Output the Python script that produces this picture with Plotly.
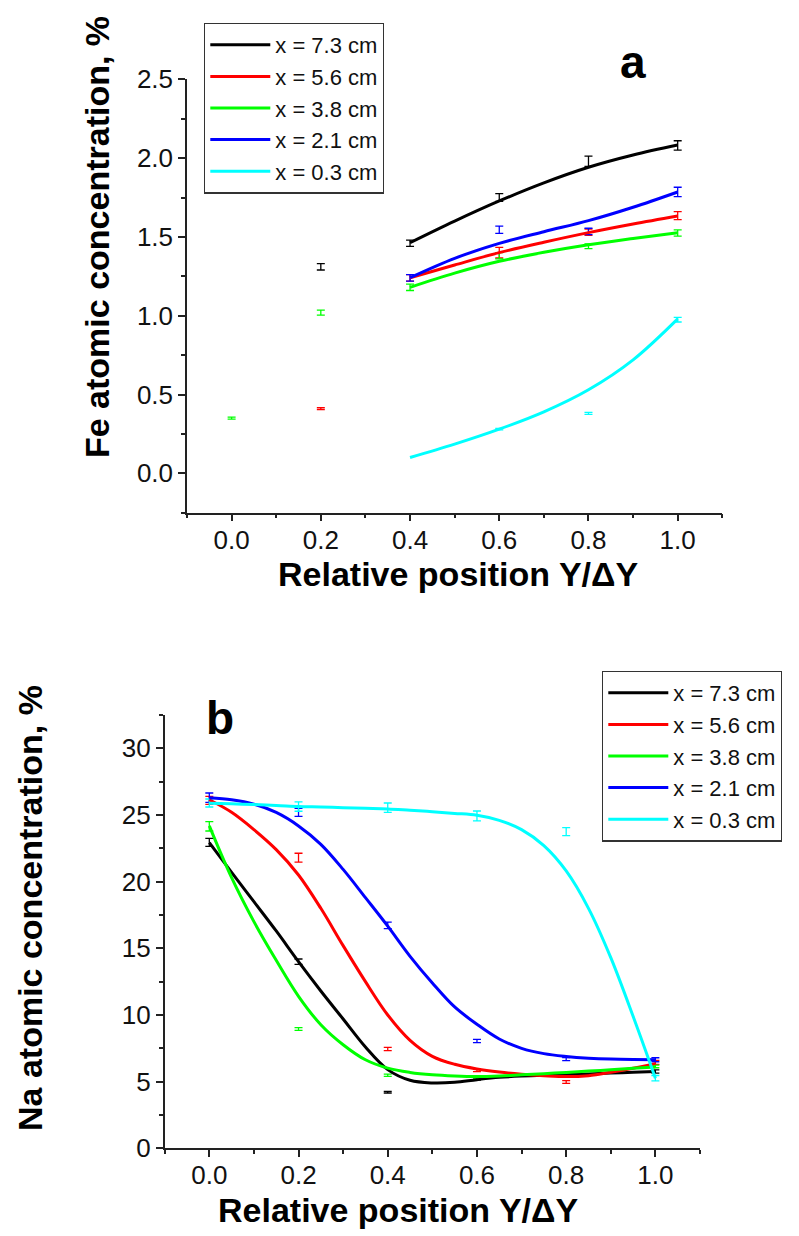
import plotly.graph_objects as go

W, H = 799, 1236
FONT = "Arial, Liberation Sans, sans-serif"

series_names = ["x = 7.3 cm", "x = 5.6 cm", "x = 3.8 cm", "x = 2.1 cm", "x = 0.3 cm"]
series_colors = ["#000000", "#FF0000", "#00FF00", "#0000FF", "#00FFFF"]

# ---------------- Panel a : Fe ----------------
fe_pts_x = [
    [0.2, 0.4, 0.6, 0.8, 1.0],
    [0.2, 0.4, 0.6, 0.8, 1.0],
    [0.0, 0.2, 0.4, 0.6, 0.8, 1.0],
    [0.4, 0.6, 0.8, 1.0],
    [0.6, 0.8, 1.0],
]
fe_pts_y = [
    [1.31, 1.46, 1.75, 1.98, 2.08],
    [0.41, 1.24, 1.40, 1.53, 1.635],
    [0.35, 1.02, 1.18, 1.38, 1.44, 1.525],
    [1.24, 1.545, 1.535, 1.785],
    [0.28, 0.38, 0.975],
]
fe_pts_err = [
    [0.02, 0.02, 0.025, 0.032, 0.03],
    [0.006, 0.02, 0.034, 0.02, 0.025],
    [0.006, 0.016, 0.02, 0.02, 0.015, 0.02],
    [0.02, 0.023, 0.02, 0.03],
    [0.005, 0.006, 0.015],
]
fe_fit_x = [0.4, 0.5, 0.6, 0.7, 0.8, 0.9, 1.0]
fe_fit_y = [
    [1.463, 1.600, 1.728, 1.843, 1.942, 2.020, 2.083],
    [1.241, 1.322, 1.400, 1.466, 1.527, 1.582, 1.633],
    [1.180, 1.270, 1.345, 1.402, 1.450, 1.490, 1.527],
    [1.241, 1.364, 1.459, 1.533, 1.603, 1.688, 1.785],
    [0.100, 0.185, 0.280, 0.390, 0.530, 0.720, 0.980],
]

# ---------------- Panel b : Na ----------------
na_pts_x = [0.0, 0.2, 0.4, 0.6, 0.8, 1.0]
na_pts_y = [
    [22.95, 14.0, 4.2, 5.2, 5.45, 5.76],
    [26.1, 21.8, 7.45, 5.85, 4.97, 6.44],
    [24.15, 8.95, 5.48, 5.35, 5.6, 6.14],
    [26.3, 25.2, 16.72, 8.05, 6.69, 6.64],
    [25.9, 25.63, 25.55, 24.93, 23.75, 5.26],
]
na_pts_err = [
    [0.3, 0.2, 0.06, 0.08, 0.08, 0.12],
    [0.3, 0.33, 0.12, 0.1, 0.1, 0.15],
    [0.35, 0.1, 0.08, 0.08, 0.08, 0.1],
    [0.35, 0.3, 0.25, 0.12, 0.12, 0.15],
    [0.3, 0.35, 0.35, 0.37, 0.3, 0.2],
]
na_fit_x = [0.0, 0.05, 0.1, 0.15, 0.2, 0.25, 0.3, 0.35, 0.4, 0.45, 0.5,
            0.55, 0.6, 0.65, 0.7, 0.75, 0.8, 0.85, 0.9, 0.95, 1.0]
na_fit_y = [
    [22.93, 20.7, 18.5, 16.3, 14.0, 11.8, 9.7, 7.6, 5.9, 5.1, 4.9,
     4.95, 5.15, 5.32, 5.42, 5.48, 5.52, 5.58, 5.64, 5.7, 5.76],
    [26.14, 25.2, 23.9, 22.4, 20.5, 18.0, 15.2, 12.5, 10.0, 8.1, 6.9,
     6.3, 5.95, 5.72, 5.56, 5.45, 5.38, 5.45, 5.7, 6.0, 6.35],
    [24.18, 20.3, 17.0, 14.1, 11.4, 9.27, 7.77, 6.64, 6.01, 5.69, 5.51,
     5.42, 5.38, 5.42, 5.51, 5.6, 5.69, 5.79, 5.89, 6.0, 6.1],
    [26.29, 26.14, 25.81, 25.19, 24.18, 22.8, 20.92, 18.8, 16.66, 14.4, 12.4,
     10.6, 9.3, 8.2, 7.5, 7.1, 6.89, 6.76, 6.69, 6.66, 6.65],
    [25.89, 25.84, 25.78, 25.72, 25.64, 25.6, 25.55, 25.5, 25.45, 25.35, 25.25,
     25.12, 24.98, 24.6, 23.9, 22.7, 20.8, 18.0, 14.3, 9.9, 5.26],
]

x_ticks = [0.0, 0.2, 0.4, 0.6, 0.8, 1.0]
fe_y_ticks = [0.0, 0.5, 1.0, 1.5, 2.0, 2.5]
na_y_ticks = [0, 5, 10, 15, 20, 25, 30]

fig = go.Figure()

def add_panel(xa, ya, legend, pts_x_list, pts_y, pts_err, fit_x, fit_y):
    for i in range(5):
        px = pts_x_list[i] if isinstance(pts_x_list[0], list) else pts_x_list
        fig.add_trace(go.Scatter(
            x=px, y=pts_y[i], mode="markers", xaxis=xa, yaxis=ya,
            marker=dict(size=2, color=series_colors[i], opacity=0),
            error_y=dict(type="data", array=pts_err[i], visible=True,
                         color=series_colors[i], thickness=1.3, width=4),
            showlegend=False, hoverinfo="skip", legend=legend,
        ))
    for i in range(5):
        fig.add_trace(go.Scatter(
            x=fit_x, y=fit_y[i], mode="lines", xaxis=xa, yaxis=ya,
            line=dict(color=series_colors[i], width=3, shape="spline", smoothing=1.0),
            name=series_names[i], legend=legend,
        ))

add_panel("x", "y", "legend", fe_pts_x, fe_pts_y, fe_pts_err, fe_fit_x, fe_fit_y)
add_panel("x2", "y2", "legend2", na_pts_x, na_pts_y, na_pts_err, na_fit_x, na_fit_y)

def px_x(p):
    return p / W

def px_y(p):
    return 1 - p / H

axis_common = dict(
    showline=True, linecolor="#222222", linewidth=1.5, mirror=False,
    ticks="outside", ticklen=7, tickwidth=1.5, tickcolor="#222222",
    showgrid=False, zeroline=False,
    tickfont=dict(family=FONT, size=26, color="#111111"),
)

fig.update_layout(
    width=W, height=H,
    margin=dict(l=0, r=0, t=0, b=0, autoexpand=False),
    paper_bgcolor="white", plot_bgcolor="white",
    xaxis=dict(domain=[px_x(187), px_x(722.3)], range=[-0.1, 1.1], anchor="y",
               tickvals=x_ticks, tickformat=".1f", ticklabelstandoff=-4,
               minor=dict(ticks="outside", ticklen=4, dtick=0.1, tick0=0, tickcolor="#222222", tickwidth=1.5),
               **axis_common),
    yaxis=dict(domain=[px_y(512.7), px_y(79.3)], range=[-0.25, 2.5], anchor="x",
               tickvals=fe_y_ticks, tickformat=".1f",
               minor=dict(ticks="outside", ticklen=4, dtick=0.25, tick0=0, tickcolor="#222222", tickwidth=1.5),
               **axis_common),
    xaxis2=dict(domain=[px_x(164.7), px_x(700)], range=[-0.1, 1.1], anchor="y2",
                tickvals=x_ticks, tickformat=".1f", ticklabelstandoff=-4,
                minor=dict(ticks="outside", ticklen=4, dtick=0.1, tick0=0, tickcolor="#222222", tickwidth=1.5),
                **axis_common),
    yaxis2=dict(domain=[px_y(1148.3), px_y(715)], range=[0, 32.5], anchor="x2",
                tickvals=na_y_ticks,
                minor=dict(ticks="outside", ticklen=4, dtick=2.5, tick0=0, tickcolor="#222222", tickwidth=1.5),
                **axis_common),
    legend=dict(x=px_x(204), y=px_y(22.7), xanchor="left", yanchor="top",
                bgcolor="white", bordercolor="#333333", borderwidth=1.3,
                font=dict(family=FONT, size=22, color="#111111"),
                itemwidth=60, tracegroupgap=0),
    legend2=dict(x=px_x(602), y=px_y(670.7), xanchor="left", yanchor="top",
                 bgcolor="white", bordercolor="#333333", borderwidth=1.3,
                 font=dict(family=FONT, size=22, color="#111111"),
                 itemwidth=60, tracegroupgap=0),
)

title_font = dict(family=FONT, size=34, color="black")
ytitle_font = dict(family=FONT, size=34, color="black")
annots = [
    dict(text="<b>Relative position Y/ΔY</b>", x=px_x(458), y=px_y(574), font=title_font),
    dict(text="<b>Relative position Y/ΔY</b>", x=px_x(398), y=px_y(1210), font=title_font),
    dict(text="<b>Fe atomic concentration, %</b>", x=px_x(97), y=px_y(237), font=ytitle_font, textangle=-90),
    dict(text="<b>Na atomic concentration, %</b>", x=px_x(30), y=px_y(908), font=ytitle_font, textangle=-90),
    dict(text="<b>a</b>", x=px_x(633), y=px_y(62), font=dict(family=FONT, size=46, color="black")),
    dict(text="<b>b</b>", x=px_x(220), y=px_y(718), font=dict(family=FONT, size=46, color="black")),
]
for a in annots:
    fig.add_annotation(xref="paper", yref="paper", xanchor="center", yanchor="middle",
                       showarrow=False, **a)

fig.write_html("out.html", config={"displayModeBar": False},
               post_script="document.body.style.margin='0px';")
